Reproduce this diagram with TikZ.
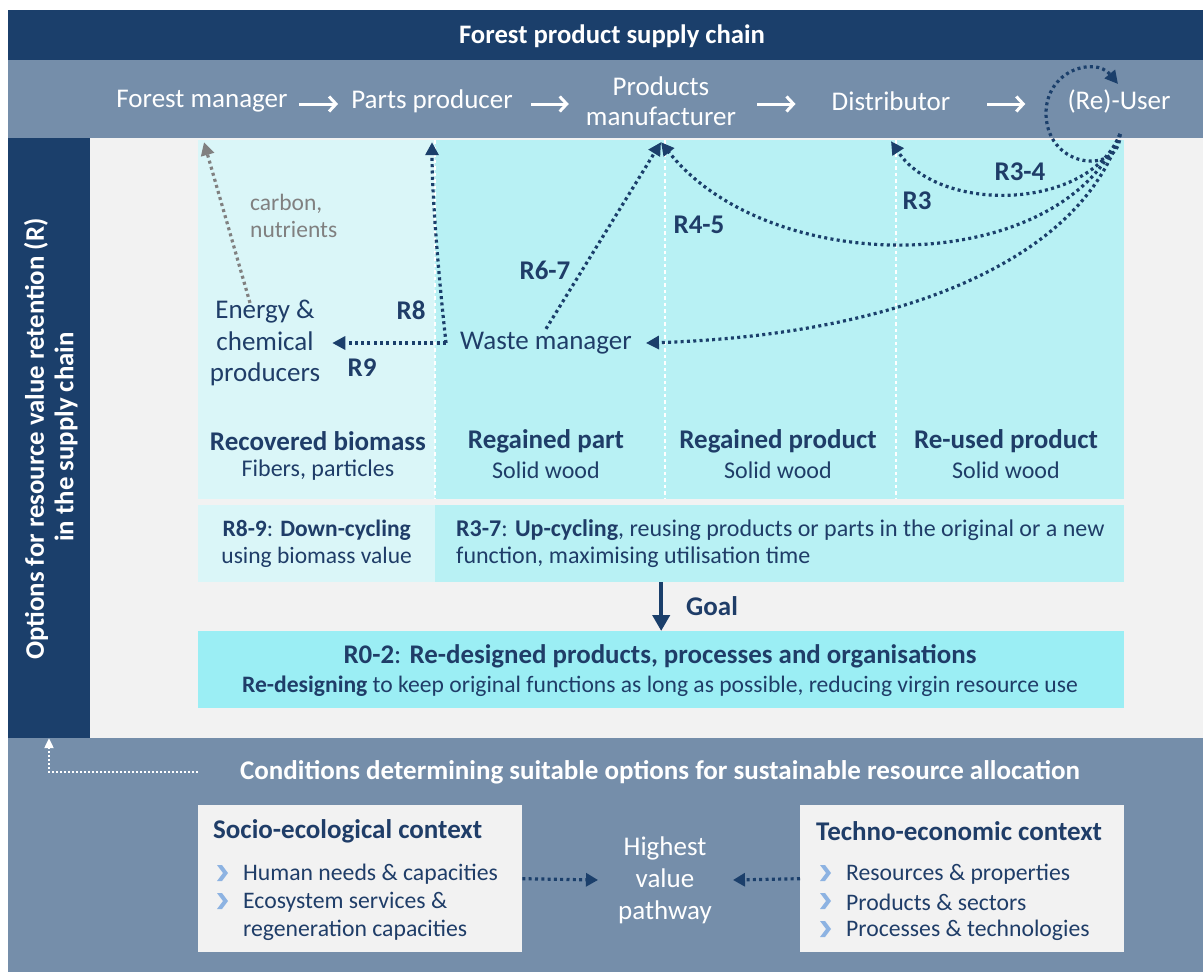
\documentclass[tikz,border=0pt]{standalone}
\usepackage{fontspec}
\setmainfont{Carlito}
\usetikzlibrary{arrows.meta,calc}
\definecolor{dblue}{HTML}{1B3F6B}
\definecolor{tblue}{HTML}{1F3D68}
\definecolor{gblue}{HTML}{758EAA}
\definecolor{lgrey}{HTML}{F2F2F2}
\definecolor{cyanA}{HTML}{DAF6F8}
\definecolor{cyanB}{HTML}{B8F1F4}
\definecolor{cyanC}{HTML}{9BEEF4}
\definecolor{bullet}{HTML}{8DB3E2}
\definecolor{greyarrow}{HTML}{808080}
\newcommand{\fs}[1]{\fontsize{#1}{#1}\selectfont}
\tikzset{
  chain/.style={text=white, font=\fs{27}, align=center, minimum height=74pt, inner sep=0pt},
  chainarrow/.style={draw=white, line width=3pt, -{Straight Barb[length=7pt,width=15pt,line width=3pt]}},
  rarrow/.style={draw=dblue, line width=3.2pt, dash pattern=on 3pt off 3.3pt, -{Triangle[length=13pt,width=13pt]}},
  rlab/.style={text=tblue, font=\bfseries\fs{27}},
  txt/.style={text=tblue, font=\fs{27}, align=center, inner sep=0pt},
  colhead/.style={text=tblue, font=\bfseries\fs{27}},
  colsub/.style={text=tblue, font=\fs{24}},
  sep/.style={draw=white, line width=2.6pt, dash pattern=on 3.5pt off 3pt},
  ctxhead/.style={text=tblue, font=\bfseries\fs{27}, anchor=west},
  item/.style={text=tblue, font=\fs{23.7}, anchor=west},
}
\newcommand{\chev}[1]{\fill[bullet] ($(#1)+(-5,-8)$) -- ++(5,0) -- ++(6,8) -- ++(-6,8) -- ++(-5,0) -- ++(6,-8) -- cycle;}
\begin{document}
\begin{tikzpicture}[x=1pt,y=-1pt]
\useasboundingbox (0,0) rectangle (1203,972);
\fill[white] (0,0) rectangle (1203,972);
% backgrounds
\fill[lgrey] (8,137) rectangle (1203,738);
\node[fill=dblue, minimum width=82pt, minimum height=601pt, inner sep=0pt] (optbar) at (49,437.5) {};
\node[fill=dblue, minimum width=1195pt, minimum height=50pt, inner sep=0pt] (title) at (605.5,35) {};
\node[text=white, font=\bfseries\fs{26.7}] at (612,36) {Forest product supply chain};
\fill[gblue] (8,60) rectangle (1203,138);
\fill[gblue] (8,738) rectangle (1203,972);
% columns
\fill[cyanA] (198,140) rectangle (435,499);
\fill[cyanB] (435,140) rectangle (1124,499);
\draw[sep] (435,140) -- (435,499);
\draw[sep] (665,140) -- (665,499);
\draw[sep] (896,140) -- (896,499);
\node[fill=cyanA, minimum width=237pt, minimum height=77pt, inner sep=0pt, anchor=north west] (down) at (198,505) {};
\node[fill=cyanB, minimum width=689pt, minimum height=77pt, inner sep=0pt, anchor=north west] (upc) at (435,505) {};
\node[fill=cyanC, minimum width=926pt, minimum height=77pt, inner sep=0pt, anchor=north west] (r02) at (198,631) {};
% vertical label
\node[rotate=90, text=white, font=\bfseries\fs{26.8}] at (36,439) {Options for resource value retention (R)};
\node[rotate=90, text=white, font=\bfseries\fs{26.8}] at (66,437) {in the supply chain};
% chain
\node[chain] (fm) at (202,101) {Forest manager};
\node[chain] (pp) at (432,101) {Parts producer};
\node[chain] (pm) at (661,101) {Products\\[3pt]manufacturer};
\node[chain] (dist) at (891,101) {Distributor};
\node[chain] (user) at (1119,101) {(Re)-User};
\draw[chainarrow, shorten <=11pt, shorten >=13pt] ([yshift=-3pt]fm.east) -- ([yshift=-3pt]pp.west);
\draw[chainarrow, shorten <=18pt, shorten >=17pt] ([yshift=-3pt]pp.east) -- ([yshift=-3pt]pm.west);
\draw[chainarrow, shorten <=21pt, shorten >=36pt] ([yshift=-3pt]pm.east) -- ([yshift=-3pt]dist.west);
\draw[chainarrow, shorten <=37pt, shorten >=42pt] ([yshift=-3pt]dist.east) -- ([yshift=-3pt]user.west);
% inner nodes
\node[txt, inner xsep=14pt] (wm) at (546,343) {Waste manager};
\node[txt, inner xsep=12pt] (en) at (265,343) {Energy \&\\[4.5pt]chemical\\[4.5pt]producers};
\coordinate (uo) at (1120,134);
% loops and arrows
\draw[rarrow] (uo) .. controls (1121,175) and (1048,170) .. (1046,115) .. controls (1045,70) and (1095,56) .. (1118,84);
\draw[rarrow] (uo) .. controls (1090,210) and (940,215) .. ([yshift=-3pt]dist.south);
\draw[rarrow] (uo) .. controls (1060,278) and (770,280) .. ([yshift=-4pt]pm.south);
\draw[rarrow] (uo) .. controls (1080,260) and (900,335) .. (wm.east);
\draw[rarrow] ([yshift=3pt]wm.north) -- ([yshift=-4pt]pm.south);
\draw[rarrow] (wm.west) .. controls (440,290) and (432,200) .. ([yshift=-4pt]pp.south);
\draw[rarrow] (wm.west) -- (en.east);
\draw[draw=greyarrow, line width=3.2pt, dash pattern=on 3pt off 3.3pt, -{Triangle[length=13pt,width=13pt]}] ([xshift=-15pt,yshift=-3pt]en.north) -- ([xshift=2pt,yshift=-4pt]fm.south);
% labels
\node[rlab] at (1020,172) {R3-4};
\node[rlab] at (917,201) {R3};
\node[rlab] at (699,225) {R4-5};
\node[rlab] at (545,270) {R6-7};
\node[rlab] at (411,310) {R8};
\node[rlab] at (362,368) {R9};
\node[text=greyarrow, font=\fs{23.5}, align=left, anchor=west, inner sep=0pt] at (250,216) {carbon,\\[4pt]nutrients};
% column headers
\node[colhead] at (318,441) {Recovered biomass};
\node[colsub] at (318,470) {Fibers, particles};
\node[colhead] at (546,441) {Regained part};
\node[colsub] at (546,470) {Solid wood};
\node[colhead] at (778,441) {Regained product};
\node[colsub] at (778,470) {Solid wood};
\node[colhead] at (1006,441) {Re-used product};
\node[colsub] at (1006,470) {Solid wood};
% row 2
\node[text=tblue, font=\fs{23.5}, align=center] at (down.center) {\textbf{R8-9}: \textbf{Down-cycling}\\[4pt]using biomass value};
\node[text=tblue, font=\fs{24}, align=left, anchor=west, inner sep=0pt] at (456,543.5) {\textbf{R3-7}: \textbf{Up-cycling}, reusing products or parts in the original or a new\\[3pt]function, maximising utilisation time};
% goal
\draw[draw=dblue, line width=4pt, -{Triangle[length=16pt,width=17pt]}] (upc.south -| r02.north) -- (r02.north);
\node[rlab, anchor=west, inner sep=0pt] at (686,606) {Goal};
\node[text=tblue, font=\bfseries\fs{26.9}] at (660,656) {R0-2\textmd{:} Re-designed products, processes and organisations};
\node[text=tblue, font=\fs{23.6}] at (660,686) {\textbf{Re-designing} to keep original functions as long as possible, reducing virgin resource use};
% bottom
\node[text=white, font=\bfseries\fs{27}, inner sep=0pt] (cond) at (660,772) {Conditions determining suitable options for sustainable resource allocation};
\draw[draw=white, line width=2.2pt, dash pattern=on 2pt off 2pt, -{Triangle[length=10pt,width=9pt]}, shorten <=42pt] (cond.west) -| (optbar.south);
\node[fill=lgrey, minimum width=324pt, minimum height=147pt, inner sep=0pt, anchor=north west] (socio) at (198,805) {};
\node[fill=lgrey, minimum width=324pt, minimum height=147pt, inner sep=0pt, anchor=north west] (techno) at (800,805) {};
\node[ctxhead, inner sep=0pt] at (213,831) {Socio-ecological context};
\node[item, inner sep=0pt] at (243,874) {Human needs \& capacities};
\node[item, inner sep=0pt] at (243,902) {Ecosystem services \&};
\node[item, inner sep=0pt] at (243,930) {regeneration capacities};
\chev{222,873}
\chev{222,901}
\node[ctxhead, inner sep=0pt] at (816,831) {Techno-economic context};
\node[item, inner sep=0pt] at (846,874) {Resources \& properties};
\node[item, inner sep=0pt] at (846,902) {Products \& sectors};
\node[item, inner sep=0pt] at (846,930) {Processes \& technologies};
\chev{825,873}
\chev{825,901}
\chev{825,929}
\node[text=white, font=\fs{27}, align=center, inner sep=0pt] (hv) at (665,880) {Highest\\[5pt]value\\[5pt]pathway};
\draw[rarrow, -{Triangle[length=12pt,width=13pt]}] (socio.east) -- ([xshift=-20pt]hv.west);
\draw[rarrow, -{Triangle[length=12pt,width=13pt]}] (techno.west) -- ([xshift=21pt]hv.east);
\end{tikzpicture}
\end{document}
